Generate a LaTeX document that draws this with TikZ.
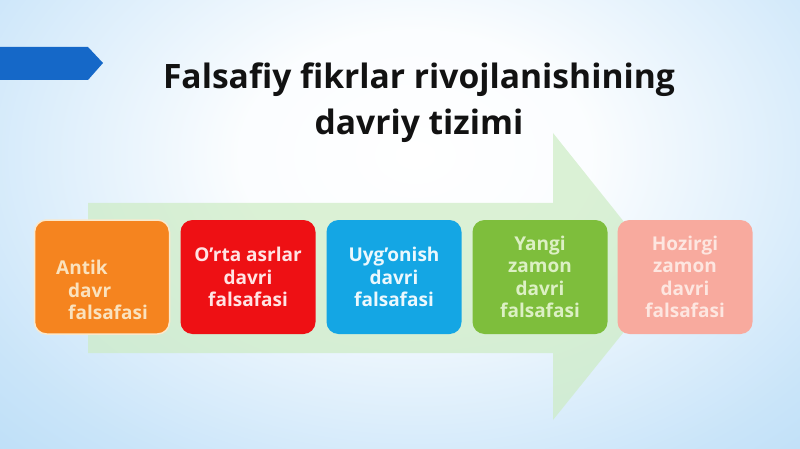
\documentclass[tikz,border=0pt]{standalone}
\usepackage{fontspec}
\setmainfont{Open Sans}
\definecolor{bgblue}{RGB}{166,211,245}
\definecolor{tabblue}{RGB}{21,104,200}
\definecolor{arrowgreen}{RGB}{205,236,196}
\definecolor{c1}{RGB}{245,132,31}
\definecolor{c2}{RGB}{238,16,20}
\definecolor{c3}{RGB}{20,166,228}
\definecolor{c4}{RGB}{126,190,60}
\definecolor{c5}{RGB}{248,170,158}
\definecolor{t1}{RGB}{250,226,190}
\definecolor{t2}{RGB}{255,228,228}
\definecolor{t3}{RGB}{236,248,253}
\definecolor{t4}{RGB}{220,240,196}
\definecolor{t5}{RGB}{253,230,224}
\pgfdeclareradialshading{bgshade}{\pgfpoint{0bp}{0bp}}{color(0bp)=(white); color(10bp)=(white!95!bgblue); color(28bp)=(white!40!bgblue); color(45bp)=(bgblue); color(50bp)=(bgblue)}
\tikzset{
  box/.style={rounded corners=12pt, minimum width=135pt, minimum height=114pt, inner sep=0pt},
  boxtext/.style={font=\fontsize{19}{22.5}\selectfont\bfseries, align=center, inner sep=0pt},
}
\begin{document}
\begin{tikzpicture}[x=1pt,y=-1pt]
\useasboundingbox (0,0) rectangle (800,449);
\fill[bgblue] (0,0) rectangle (800,449);
\begin{scope}
\clip (0,0) rectangle (800,449);
\shade[shading=bgshade] (-30,-160) rectangle (860,470);
\end{scope}
% blue tab
\fill[tabblue] (0,47) -- (88,47) -- (103,63) -- (88,80) -- (0,80) -- cycle;
% big arrow
\fill[arrowgreen, opacity=0.7] (88,203) -- (553,203) -- (553,133) -- (668,277) -- (553,420) -- (553,353) -- (88,353) -- cycle;
% title
\node[font=\fontsize{33.6}{46}\selectfont\bfseries, align=center, text=black!93, inner sep=0pt] (title) at (419,103)
  {Falsafiy fikrlar rivojlanishining\\davriy tizimi};
% boxes
\node[box, fill=c1, draw=t1!80!white, line width=1.5pt] (b1) at (102,277) {};
\node[boxtext, text=t1, align=left] (l1) at ([yshift=-13pt]b1.center) {Antik\\\hspace*{12pt}davr\\\hspace*{12pt}falsafasi};
\node[box, fill=c2, boxtext, text=t2] (b2) at (248,277) {O’rta asrlar\\davri\\falsafasi};
\node[box, fill=c3, boxtext, text=t3] (b3) at (394,277) {Uyg’onish\\davri\\falsafasi};
\node[box, fill=c4, boxtext, text=t4] (b4) at (540,277) {Yangi\\zamon\\davri\\falsafasi};
\node[box, fill=c5, boxtext, text=t5] (b5) at (685,277) {Hozirgi\\zamon\\davri\\falsafasi};
\end{tikzpicture}
\end{document}
